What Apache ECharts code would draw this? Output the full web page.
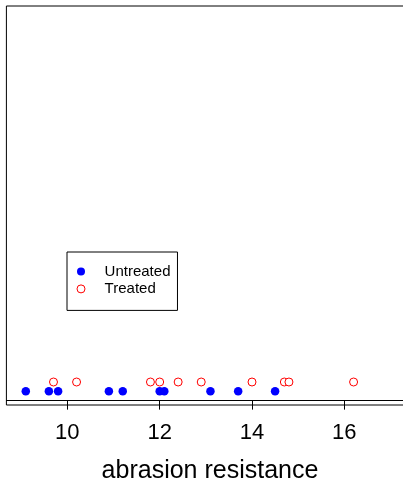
<!DOCTYPE html>
<html>
<head>
<meta charset="utf-8">
<script src="https://cdn.jsdelivr.net/npm/echarts@6/dist/echarts.min.js"></script>
<style>
  html, body { margin: 0; padding: 0; background: #fff; }
  #chart { width: 403px; height: 482px; }
</style>
</head>
<body>
<div id="chart"></div>
<script>
// Abrasion resistance strip chart: untreated vs treated samples
const untreated = [9.1, 9.6, 9.8, 10.9, 11.2, 12.0, 12.1, 13.1, 13.7, 14.5];
const treated = [9.7, 10.2, 11.8, 12.0, 12.4, 12.9, 14.0, 14.7, 14.8, 16.2];
const groupNames = ['Untreated', 'Treated'];
const xTicks = [10, 12, 14, 16];
// vertical strip level for each group
const stripLevel = [1, 2];

const FONT = 'Liberation Sans, Arial, Helvetica, sans-serif';

const chart = echarts.init(document.getElementById('chart'));
chart.setOption({
  animation: false,
  backgroundColor: '#fff',
  grid: {
    left: 6.4, right: -10.6, top: 6, bottom: 77,
    containLabel: false,
    outerBoundsMode: 'none',
    show: true, borderColor: '#000', borderWidth: 1, backgroundColor: 'transparent'
  },
  xAxis: {
    type: 'value',
    min: 8.68, max: 17.5,
    name: 'abrasion resistance',
    nameLocation: 'middle',
    nameGap: 54,
    nameTextStyle: { fontFamily: FONT, fontSize: 25, color: '#000' },
    axisLine: { show: true, lineStyle: { color: '#000', width: 1 } },
    axisTick: { show: true, length: 9, customValues: xTicks, lineStyle: { color: '#000' } },
    axisLabel: { show: true, customValues: xTicks, margin: 17, fontFamily: FONT, fontSize: 22, color: '#000' },
    splitLine: { show: false }
  },
  yAxis: {
    type: 'value',
    min: -0.47, max: 42.4,
    show: false
  },
  legend: {
    orient: 'vertical',
    left: 67, top: 252,
    padding: [12, 7, 14, 9.5],
    borderColor: '#000', borderWidth: 1,
    itemWidth: 8, itemHeight: 8, itemGap: 2.4,
    textStyle: { fontFamily: FONT, fontSize: 15, color: '#000', padding: [0, 0, 0, 14.6] },
    data: [
      { name: groupNames[0] },
      { name: groupNames[1], itemStyle: { color: '#fff', borderColor: '#ff0000', borderWidth: 1 } }
    ]
  },
  series: [
    {
      name: groupNames[0],
      type: 'scatter',
      symbol: 'circle',
      symbolSize: 8.5,
      itemStyle: { color: '#0000ff', opacity: 1 },
      data: untreated.map(v => [v, stripLevel[0]])
    },
    {
      name: groupNames[1],
      type: 'scatter',
      symbol: 'circle',
      symbolSize: 8,
      itemStyle: { color: '#fff', borderColor: '#ff0000', borderWidth: 1, opacity: 1 },
      data: treated.map(v => [v, stripLevel[1]])
    }
  ]
});
</script>
</body>
</html>
